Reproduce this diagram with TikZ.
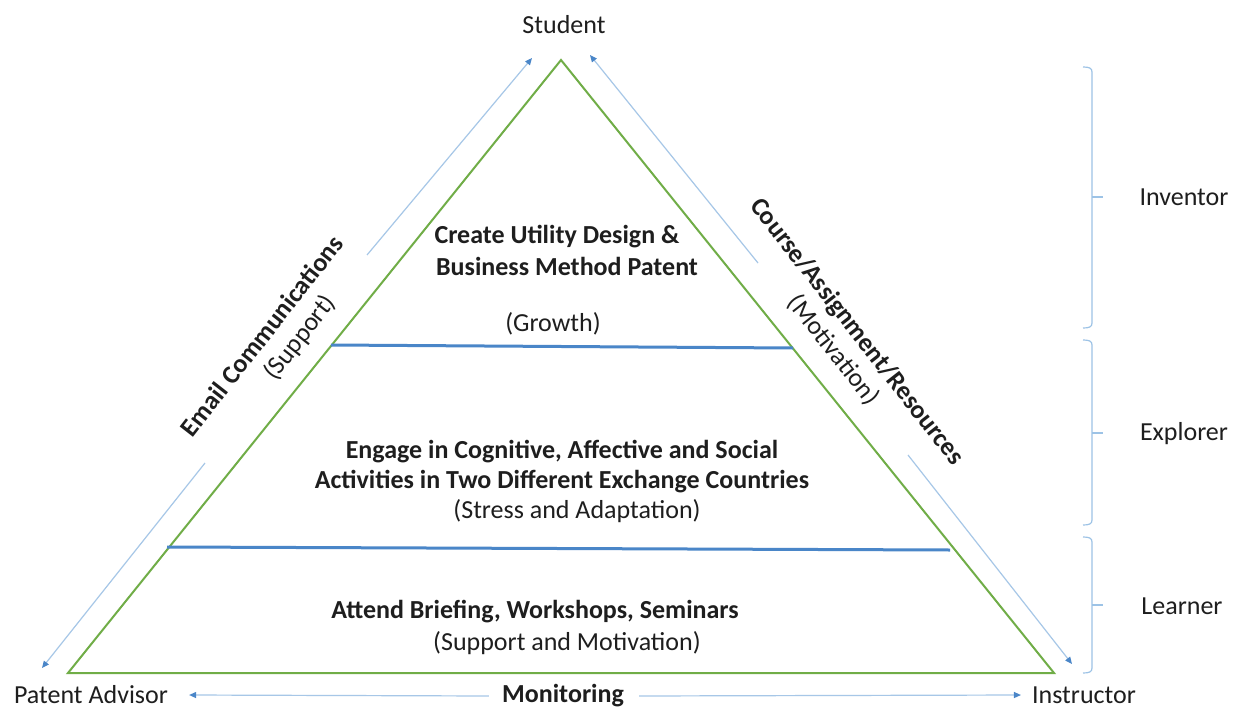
\documentclass[tikz,border=0pt]{standalone}
\usepackage{fontspec}
\setmainfont{Carlito}
\usetikzlibrary{arrows.meta}
\definecolor{tri}{HTML}{70AD47}
\definecolor{layer}{HTML}{4A86C8}
\definecolor{arr}{HTML}{A7C7E7}
\definecolor{tipc}{HTML}{4A86C8}
\definecolor{brc}{HTML}{9DC3E6}
\definecolor{txt}{HTML}{1E1E1E}
\newcommand\mybrace[4]{% x, top, bottom, tick
  \draw[bracestyle] (#1-9,#2) .. controls (#1-3,#2) and (#1,#2+1) .. (#1,#2+5) -- (#1,#3-5) .. controls (#1,#3-1) and (#1-3,#3) .. (#1-9,#3);
  \draw[bracestyle] (#1,#4) -- (#1+11,#4);}
\begin{document}
\begin{tikzpicture}[x=1pt,y=-1pt,
  lbl/.style={font=\fontsize{26}{30}\selectfont, text=txt, inner sep=0pt},
  blbl/.style={font=\fontsize{26}{30}\selectfont\bfseries, text=txt, inner sep=0pt},
  sidelbl/.style={font=\fontsize{26}{30}\selectfont, text=txt, inner sep=0pt, align=center},
  flow/.style={draw=arr, line width=1.2pt, -{Triangle[length=7pt,width=6pt,color=tipc]}},
  bracestyle/.style={draw=brc, line width=1.2pt},
  tristyle/.style={draw=tri, line width=2pt, line join=miter},
  layerstyle/.style={draw=layer, line width=3pt}]
\useasboundingbox (0,0) rectangle (1239,709);
\fill[white] (0,0) rectangle (1239,709);

% triangle
\coordinate (A) at (561,60);
\coordinate (B) at (68,673);
\coordinate (C) at (1054,673);
\draw[tristyle] (A) -- (B) -- (C) -- cycle;

% layer lines
\coordinate (L1a) at (331,345);
\coordinate (L1b) at (793,348);
\coordinate (L2a) at (167,547);
\coordinate (L2b) at (950,550);
\draw[layerstyle] (L1a) -- (L1b);
\draw[layerstyle] (L2a) -- (L2b);

% corner labels
\node[lbl] (student) at (564,25) {Student};
\node[lbl] (advisor) at (91,695) {Patent Advisor};
\node[lbl] (instr) at (1084,695) {Instructor};
\node[blbl] (mon) at (563,696) {Monitoring};

% flow arrows
\coordinate (e1s) at (367,255);
\coordinate (e1t) at (532,58);
\coordinate (e2s) at (205,463);
\coordinate (e2t) at (42,668);
\coordinate (c1s) at (758,263);
\coordinate (c1t) at (590,55);
\coordinate (c2s) at (908,455);
\coordinate (c2t) at (1072,664);
\draw[flow] (e1s) -- (e1t);
\draw[flow] (e2s) -- (e2t);
\draw[flow] (c1s) -- (c1t);
\draw[flow] (c2s) -- (c2t);
\draw[flow] ([xshift=-13pt]mon.west) -- ([xshift=21pt]advisor.east);
\draw[flow] ([xshift=15pt]mon.east) -- ([xshift=-11pt]instr.west);

% side labels
\node[sidelbl, rotate=52] (email) at (275,346) {\textbf{Email Communications}\\\hspace*{44pt}(Support)};
\node[sidelbl, rotate=-52] (course) at (845,341) {\textbf{Course/Assignment/Resources}\\(Motivation)};

% layer texts
\node[blbl] (t1) at (557,237) {Create Utility Design \&};
\node[blbl] (t2) at (567,266) {Business Method Patent};
\node[lbl] (t3) at (553,324) {(Growth)};
\node[blbl] (t4) at (562,452) {Engage in Cognitive, Affective and Social};
\node[blbl] (t5) at (562,482) {Activities in Two Different Exchange Countries};
\node[lbl] (t6) at (577,511) {(Stress and Adaptation)};
\node[blbl] (t7) at (535,612) {Attend Briefing, Workshops, Seminars};
\node[lbl] (t8) at (567,643) {(Support and Motivation)};

% braces
\mybrace{1092}{67}{328}{197}
\mybrace{1092}{340}{525}{433}
\mybrace{1092}{537}{673}{605}
\node[lbl] (inv) at (1184,197) {Inventor};
\node[lbl] (exp) at (1184,434) {Explorer};
\node[lbl] (lea) at (1182,606) {Learner};
\end{tikzpicture}
\end{document}
